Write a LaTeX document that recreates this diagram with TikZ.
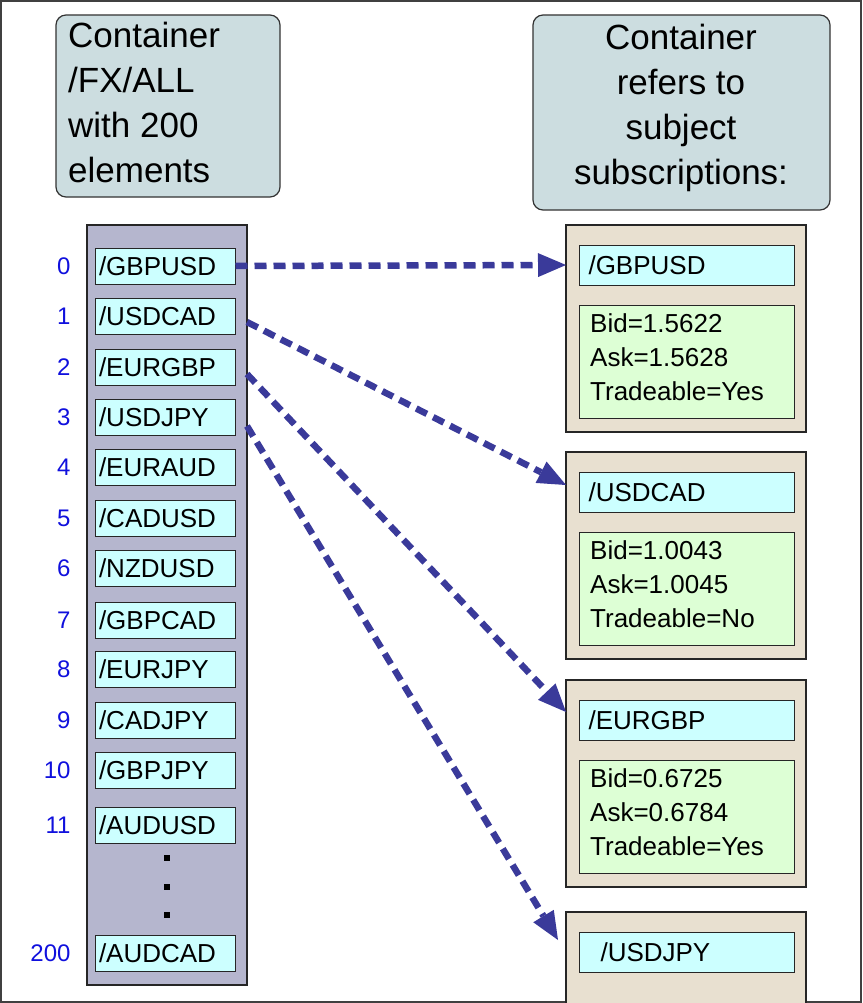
\documentclass[tikz,border=0pt]{standalone}
\usepackage{fontspec}
\setmainfont{Liberation Sans}
\usetikzlibrary{arrows.meta}
\definecolor{titlef}{HTML}{CCDDE0}
\definecolor{colf}{HTML}{B5B6CE}
\definecolor{cyanf}{HTML}{CCFFFF}
\definecolor{tanf}{HTML}{E8E0D0}
\definecolor{greenf}{HTML}{DDFFD5}
\definecolor{arr}{HTML}{3A3A9A}
\definecolor{idx}{HTML}{1010DD}
\begin{document}
\begin{tikzpicture}[x=1pt,y=-1pt,
  title/.style={draw=black!80,line width=1.2pt,fill=titlef,rounded corners=10pt},
  item/.style={draw=black!85,line width=1pt,fill=cyanf,minimum width=140pt,minimum height=36pt,anchor=center,font=\fontsize{26}{26}\selectfont,inner xsep=4pt,text width=132pt,align=left},
  ix/.style={text=idx,font=\fontsize{24}{24}\selectfont,anchor=east},
  cont/.style={draw=black!85,line width=1.2pt,fill=tanf},
  hdr/.style={draw=black!85,line width=1pt,fill=cyanf},
  val/.style={draw=black!85,line width=1pt,fill=greenf},
  conn/.style={arr,line width=6.5pt,dash pattern=on 12pt off 7pt,-{Triangle[length=28pt,width=24pt,line width=0pt]}}]
\useasboundingbox (0,0) rectangle (862,1003);
\draw[line width=2pt,black!75] (1,1) rectangle (861,1002);
% titles
\draw[title] (56,15) rectangle (280,197);
\node[anchor=north west,align=left,font=\fontsize{35}{45}\selectfont,inner sep=0pt] (t1) at (68,22) {Container\\/FX/ALL\\with 200\\elements};
\draw[title] (533,15) rectangle (830,210);
\node[anchor=north,align=center,font=\fontsize{35}{45}\selectfont,inner sep=0pt] (t2) at (681,24) {Container\\refers to\\subject\\subscriptions:};
% column
\draw[draw=black!85,line width=1.2pt,fill=colf] (87,225) rectangle (247,985);
\foreach \n/\y/\t in {0/266/GBPUSD,1/316/USDCAD,2/367/EURGBP,3/417/USDJPY,4/467/EURAUD,5/518/CADUSD,6/568/NZDUSD,7/620/GBPCAD,8/669/EURJPY,9/720/CADJPY,10/770/GBPJPY,11/825/AUDUSD,200/953/AUDCAD}{
  \node[item] (i\n) at (165,\y) {/\t};
  \node[ix] (x\n) at (74,\y) {\n};
}
\foreach \y in {858,887,915}{\fill (164,\y-3) rectangle (170,\y+3);}
% containers
\foreach \k/\y/\t/\b/\a/\tr in {1/225/GBPUSD/1.5622/1.5628/Yes,2/452/USDCAD/1.0043/1.0045/No,3/680/EURGBP/0.6725/0.6784/Yes}{
  \draw[cont] (566,\y) rectangle (806,\y+207);
  \draw[hdr] (579,\y+20) rectangle (794,\y+60);
  \node[anchor=west,font=\fontsize{26}{26}\selectfont] at (585,\y+40) {/\t};
  \coordinate (c\k) at (566,\y+40);
  \draw[val] (579,\y+80) rectangle (794,\y+193);
  \node[anchor=north west,align=left,font=\fontsize{26}{34}\selectfont,inner sep=0pt] at (590,\y+88) {Bid=\b\\Ask=\a\\Tradeable=\tr};
}
\fill[tanf] (567,913) rectangle (805,1003);
\draw[cont] (566,1003) -- (566,912) -- (806,912) -- (806,1003);
\draw[hdr] (579,932) rectangle (794,972);
\node[anchor=west,font=\fontsize{26}{26}\selectfont] at (597,952) {/USDJPY};
\coordinate (c4) at (558,940);
\coordinate (c2b) at (566,485);
\coordinate (c3b) at (566,712);
\coordinate (s1) at (247,322);
\coordinate (s2) at (247,374);
\coordinate (s3) at (247,426);
% arrows
\draw[conn] (i0.east) -- (c1);
\draw[conn] (s1) -- (c2b);
\draw[conn] (s2) -- (c3b);
\draw[conn] (s3) -- (c4);
\end{tikzpicture}
\end{document}
